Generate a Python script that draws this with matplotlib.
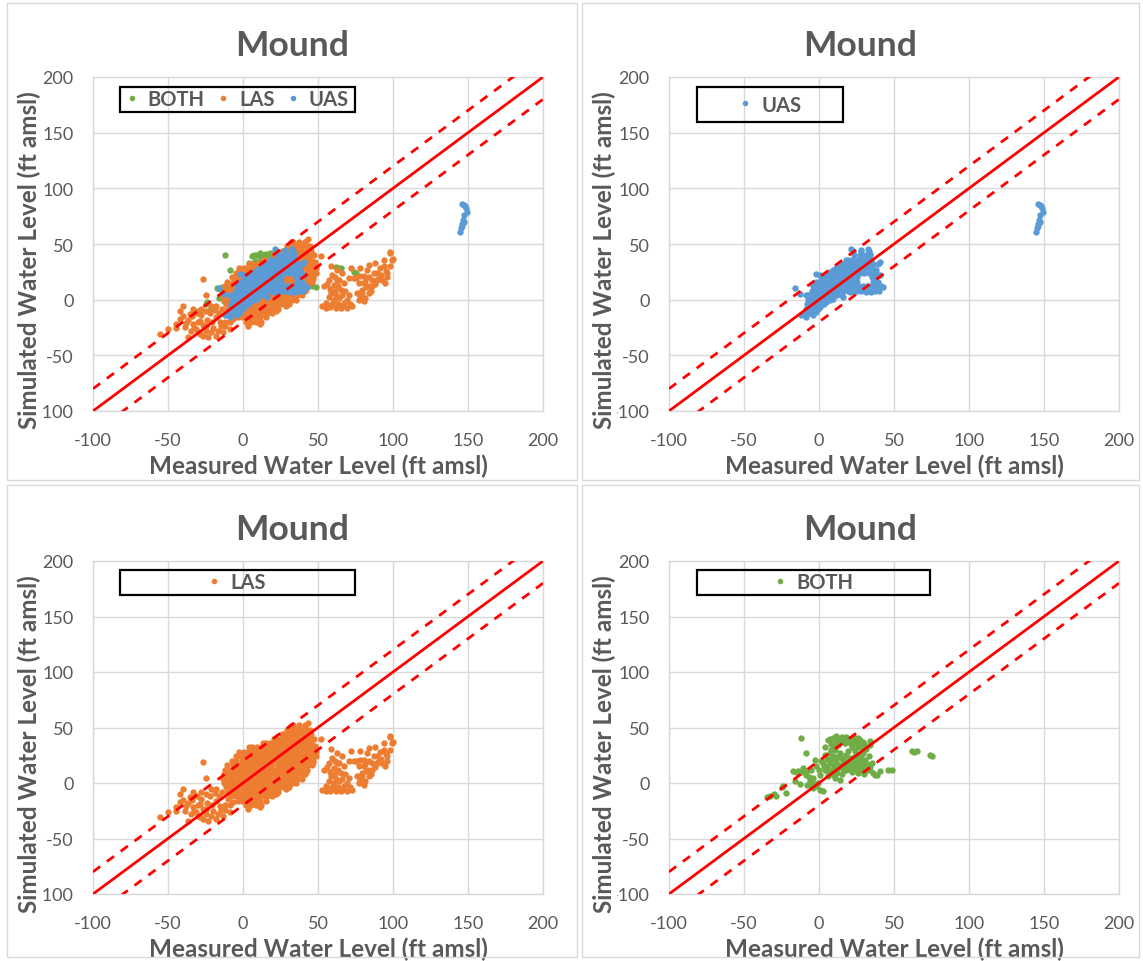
import matplotlib.pyplot as plt
from matplotlib.lines import Line2D
from matplotlib.patches import Rectangle

plt.rcParams['font.family'] = ['Lato', 'DejaVu Sans']
plt.rcParams['axes.unicode_minus'] = False

# ---- data (ft amsl) ----
series_names = ['BOTH', 'LAS', 'UAS']
series_colors = {'BOTH': '#70AD47', 'LAS': '#ED7D31', 'UAS': '#5B9BD5'}

axis_min, axis_max, axis_step = -100, 200, 50
band = 20  # +/- ft around the 1:1 line

# LAS: dense core, given as rows (simulated, [measured...])
las_core_rows = [
    (52, [33.5, 37, 41]),
    (48, [29.5, 32, 35.5, 38.5, 42, 44.5]),
    (44, [26, 28, 30.5, 33.5, 36, 39, 42.5, 45.5]),
    (40, [20.5, 23, 26.5, 29.5, 32, 35.5, 38.5, 41, 44.5, 47]),
    (36, [13, 15.5, 18, 21.5, 24, 27.5, 30, 33, 36.5, 39, 42.5, 45.5]),
    (32, [4, 6, 9.5, 12.5, 15, 18.5, 21, 24.5, 27, 30.5, 33, 36, 39.5, 42, 45, 48]),
    (28, [-2.5, 0.5, 3, 6.5, 9, 12.5, 15, 18, 21.5, 24, 27.5, 30, 33.5, 36, 39, 42.5, 45, 48.5]),
    (24, [-5, -2, 1.5, 4, 7.5, 10, 13, 16.5, 19, 22.5, 25, 28, 31.5, 34, 37.5, 40, 43, 46.5, 48.5]),
    (20, [-7.5, -4.5, -1, 2, 5, 8.5, 11, 14, 17.5, 20, 23, 26.5, 29, 32.5, 35, 38, 41.5, 44, 46.5]),
    (16, [-10.5, -7, -4, -1.5, 2, 4.5, 8, 11, 13.5, 17, 19.5, 23, 26, 28.5, 32, 34.5, 38, 41, 43.5, 46]),
    (12, [-12, -9, -6, -3, 0.5, 3, 6.5, 9, 12, 15.5, 18, 21.5, 24, 27, 30.5, 33, 36.5, 39, 42.5]),
    (8, [-12.5, -9.5, -6.5, -3.5, -0.5, 2.5, 5.5, 8.5, 11.5, 14.5, 17.5, 20.5, 23.5, 26.5, 29.5, 32.5, 35.5, 38.5, 41]),
    (4, [-12, -9, -6, -3, 0, 3, 6, 9, 12, 15, 18, 21, 24, 27, 30, 33, 36, 39]),
    (0, [-12.5, -9.5, -6.5, -3.5, -0.5, 2.5, 5.5, 8.5, 11.5, 14.5, 17.5, 20.5, 23.5, 26.5, 29.5, 32.5, 35]),
    (-4, [-11.5, -8.5, -5.5, -2.5, 0.5, 3.5, 6.5, 9.5, 12.5, 15.5, 18.5, 21.5, 24.5, 27.5, 30.5]),
    (-8, [-10, -7, -4, -1, 2, 5, 8, 11, 14, 17, 20, 23.5]),
    (-12, [-8, -5, -2, 1, 4, 7, 10, 13, 16, 19.5]),
    (-16, [-3.5, -0.5, 2.5, 5.5, 8.5, 11.5, 15]),
    (-20, [2, 5, 8.5, 12]),
]
# LAS: lower-left tail and loose points around the core
las_tail = [
    (-55.6, -30.8), (-50, -26.3), (-44.4, -21.9), (-42.2, -9.9), (-40, -5.4),
    (-35.6, -12.9), (-38.9, -24.8), (-36.7, -33.8), (-31.1, -26.3), (-26.7, 18.6),
    (-24.4, 4.2), (-21.1, -5.4), (-17.8, -5.4), (-27.8, -8.4), (-28.9, -18.9),
    (-24.4, -23.4), (-21.1, -29.3), (-17.8, -32.3), (-13.3, -29.3), (-8.9, -26.3),
    (-33.3, -21.9), (-26.7, -32.3), (-23.3, -33.8), (-30, -29.3), (-33.3, -8.4),
    (-13.3, 3.6), (-15.6, -20.4), (-6.7, -17.4), (3.3, -23.4), (11.1, -21.9),
    (22.2, -9.9), (28.9, -5.4), (35.6, 3.6), (42.2, 9.6), (46.7, 18.6),
    (45.6, 26), (52.2, 39.5), (43.3, 54.5), (41.1, 51.5), (32.2, 51.5),
    (35.6, 48.5), (47.8, 33.5), (58.9, 30.5),
    (-40, -15), (-37, -18), (-34, -15), (-31, -12), (-28, -14), (-25, -10),
    (-22, -12), (-19, -9), (-16, -12), (-14, -8), (-30, -20), (-27, -23),
    (-24, -18), (-21, -20), (-18, -16), (-15, -24), (-12, -20), (-20, -25),
    (-17, -28), (-10, -14), (-35, -28), (-29, -31), (-25, -28), (-38, -21),
    (-33, -25), (-42, -17), (-45, -25), (-12, -24), (-9, -20),
]
# LAS: cluster right of the 1:1 band (measured 50-100)
las_right = [
    (54, 11.9), (52.9, -6), (55.1, -7.5), (58.4, -4.5), (60.6, 0), (58.4, 6),
    (57.3, 17.9), (59.5, 22.4), (62.8, 26.9), (66.1, 23.9), (67.3, 14.9), (65, 9),
    (63.9, 1.5), (67.3, -3), (69.5, -7.5), (72.8, -6), (70.6, 4.5), (69.5, 0),
    (61.7, -7.5), (65, -7.5), (71.7, 28.4), (73.9, 19.4), (70.6, 19.4), (62.8, 17.9),
    (60.6, 13.4), (76.1, 6), (78.3, 3), (81.6, 1.5), (79.4, 9), (77.2, 14.9),
    (80.5, 20.9), (82.7, 26.9), (83.8, 31.3), (88.3, 32.8), (89.4, 23.9), (86, 17.9),
    (83.8, 11.9), (92.7, 17.9), (94.9, 14.9), (96, 23.9), (98.3, 29.9), (99.3, 35.8),
    (98.3, 41.8), (93.8, 35.8), (89.4, 17.9), (86, 11.9), (80.5, 14.9), (78.3, 20.9),
    (75, 19.4), (83.8, 6), (80.5, -1.5), (77.2, 0), (78.3, 28.4), (97.8, 42.5),
    (100, 36.5), (56, 14), (58, 10), (61, 8), (63, 12), (64, 18), (61, 20), (57, 2),
    (60, -3), (63, -4), (66, 4), (68, 8), (62, 4), (66, -6), (55, -3), (58, -7),
    (71, -4), (81, 17), (84, 20), (87, 24), (91, 28), (94, 30), (96, 20), (92, 22),
    (88, 14), (85, 8), (82, 11), (79, 6), (90, 19), (95, 26),
]

# UAS: main cluster rows (simulated, [measured...])
uas_core_rows = [
    (44, [22.5, 28, 33]),
    (40, [23, 27, 31, 34]),
    (36, [19, 22, 25, 28, 31, 34]),
    (32, [15, 18, 21, 24, 27, 30, 33, 36, 39]),
    (28, [11, 14, 17, 20, 23, 26, 29, 32, 35]),
    (24, [6, 9, 12, 15, 18, 21, 24, 27, 30, 33, 36, 38]),
    (20, [1, 4, 7, 10, 13, 16, 19, 22, 25, 35, 38]),
    (16, [-2, 1, 4, 7, 10, 13, 16, 19, 22, 25, 36, 39]),
    (12, [-4, -1, 2, 5, 8, 11, 14, 17, 20, 23, 26, 29, 32, 35, 38, 41]),
    (8, [-5, -2, 1, 4, 7, 10, 13, 16, 19, 22, 25, 28, 31, 34, 37, 40]),
    (4, [-9, -6, -3, 0, 3, 6, 9, 12, 15]),
    (0, [-7.5, -4.5, -1.5, 1.5, 4.5, 7.5]),
    (-4, [-8, -5, -2, 1, 3.5]),
    (-8, [-9, -6, -3, -0.5]),
    (-12, [-9, -6, -3.5]),
]
uas_edge = [
    (-16.2, 10.5), (-12.9, 5.4), (-11.8, -14.1), (-8.4, -15.6), (-4, -14.1),
    (-6.2, -8.1), (-6.2, -2.1), (-7.3, 3.9), (-4, 14.4), (-1.8, 23.4), (0.4, 21.9),
    (1.6, 17.4), (7.1, 24.9), (9.3, 26.3), (13.8, 30.8), (18.2, 35.3), (21.6, 45.8),
    (28.2, 44.3), (28.2, 39.8), (33.8, 41.3), (32.7, 45.8), (34.9, 35.3), (40.4, 33.8),
    (38.2, 26.3), (40.4, 21.9), (42.7, 11.4), (38.2, 15.9), (34.9, 6.9), (31.6, 6.9),
    (24.9, 21.9), (20.4, 6.9), (16, 2.4), (9.3, 0.9), (4.9, -2.1), (0.4, -6.6),
    (-1.8, -11.1), (-5.1, -5.1),
]
# UAS: wells measured near 147 ft
uas_strip = [
    (147, 85), (148.5, 82), (149, 79), (147.5, 76), (146.5, 72), (146, 68),
    (145.5, 64), (144.5, 61), (146, 86), (148, 84), (147, 70), (146, 66),
]

# BOTH
both_pts = [
    (-35, -13), (-28.6, -11.9), (-24.1, -2.4), (-17.4, 10.4), (-15.2, 9.6), (-16.3, 1.5),
    (-11.8, 40.3), (-8.5, 26.9), (-10.7, 13.4), (-8.5, 7.5), (-5.1, 11.9), (-2.9, 20.9),
    (-6.2, -1.5), (-4, -4.5), (-1.8, -3), (0.4, -6), (2.7, -7.5), (-0.7, 0),
    (3.8, 32.8), (6, 38.8), (9.4, 40.3), (13.8, 40.3), (18.3, 41.8), (22.8, 41.8),
    (26.1, 40.3), (29.5, 37.3), (26.1, 32.8), (21.7, 32.8), (17.2, 35.8), (12.7, 34.3),
    (10.5, 29.9), (7.1, 26.9), (13.8, 26.9), (19.4, 28.4), (23.9, 28.4), (29.5, 26.9),
    (30.6, 20.9), (25, 20.9), (20.5, 22.4), (15.4, 22.4), (11.6, 20.9), (7.1, 17.9),
    (2.7, 17.9), (3.8, 11.9), (8.3, 10.4), (12.7, 13.4), (17.2, 16.4), (22.8, 14.9),
    (27.2, 13.4), (30.6, 14.9), (31.7, 11.9), (33.9, 14.9), (10.5, 4.5), (13.8, 3),
    (6, 6), (33.9, 34.3), (36.2, 9), (40.6, 10.4), (46.2, 11.9), (37.5, 7.5),
    (-4, 4.5), (0.4, 7.5), (63, 28.3), (65, 28.5), (75.3, 23.9), (38.4, 7.5),
    (48.5, 11.3), (5, 22), (8, 22), (12, 17), (16, 18), (20, 17), (24, 17), (28, 18),
    (18, 12), (22, 10), (26, 9), (30, 8), (15, 8), (5, 14), (9, 13), (25, 25),
    (18, 25), (22, 37), (16, 38), (26, 37), (12, 37), (8, 35), (20, 40), (24, 39),
    (15, 41), (11, 39), (3, 15), (0, 12), (-2, 15), (-12, 10), (-14, 11), (-7, 5),
    (-9, 10), (-13, -1), (-8, -2), (-3, -1), (-6, 2), (35, 18), (33, 24), (28, 24),
    (31, 31), (34, 38), (-25, -4), (-22, -9), (-33, -12), (74, 25), (62, 29), (-30, -10),
    (14, 24), (19, 20), (23, 23), (27, 21), (10, 16), (16, 13), (21, 12), (25, 12),
    (29, 11), (12, 9), (7, 8), (17, 36), (21, 35), (25, 35), (14, 37), (10, 33),
    (7, 40), (11, 42), (16, 40), (19, 38), (23, 40), (27, 39), (30, 35), (28, 32),
    (9, 24), (12, 23), (16, 21), (22, 19), (26, 17), (29, 15), (32, 17), (34, 12),
    (6, 10), (10, 7), (19, 15), (14, 15), (24, 14), (1, 20), (4, 25), (8, 30),
]


def from_rows(rows):
    xs, ys = [], []
    for y, row in rows:
        xs += row
        ys += [y] * len(row)
    return xs, ys


def from_pairs(*groups):
    xs, ys = [], []
    for g in groups:
        xs += [p[0] for p in g]
        ys += [p[1] for p in g]
    return xs, ys


lx1, ly1 = from_rows(las_core_rows)
lx2, ly2 = from_pairs(las_tail, las_right)
ux1, uy1 = from_rows(uas_core_rows)
ux2, uy2 = from_pairs(uas_edge, uas_strip)
bx, by = from_pairs(both_pts)

data = {
    'BOTH': (bx, by),
    'LAS': (lx1 + lx2, ly1 + ly2),
    'UAS': (ux1 + ux2, uy1 + uy2),
}

# ---- layout (pixels of a 1143x962 canvas) ----
W, H = 1143, 962
fig = plt.figure(figsize=(W / 100, H / 100), dpi=100)
fig.patch.set_facecolor('white')

gray = '#595959'
grid_c = '#d9d9d9'

panels = [
    # chart border, plot area, legend box (px), series shown
    ((7, 4, 577, 481), (93, 78, 543, 412), (119.5, 88, 355, 113), ['BOTH', 'LAS', 'UAS']),
    ((582, 4, 1139, 481), (669, 78, 1119, 412), (697, 88, 843, 123), ['UAS']),
    ((7, 486, 577, 958), (93, 562, 543, 895), (119.5, 571, 355, 596), ['LAS']),
    ((582, 486, 1139, 958), (669, 562, 1119, 895), (697, 571, 930, 596), ['BOTH']),
]

for border, area, lbox, names in panels:
    fig.patches.append(Rectangle((border[0] / W, 1 - border[3] / H),
                                 (border[2] - border[0]) / W, (border[3] - border[1]) / H,
                                 transform=fig.transFigure, fill=False,
                                 edgecolor=grid_c, lw=1.0))
    ax = fig.add_axes([area[0] / W, 1 - area[3] / H,
                       (area[2] - area[0]) / W, (area[3] - area[1]) / H])
    aw, ah = area[2] - area[0], area[3] - area[1]

    for name in names:
        xs, ys = data[name]
        ax.scatter(xs, ys, s=21, color=series_colors[name], linewidths=0, zorder=2)

    lims = [axis_min, axis_max]
    ax.plot(lims, lims, color='red', lw=2, zorder=3)
    ax.plot(lims, [v + band for v in lims], color='red', lw=2, ls=(0, (3.2, 3)), zorder=3)
    ax.plot(lims, [v - band for v in lims], color='red', lw=2, ls=(0, (3.2, 3)), zorder=3)

    ax.set_xlim(axis_min, axis_max)
    ax.set_ylim(axis_min, axis_max)
    ticks = list(range(axis_min, axis_max + 1, axis_step))
    ax.set_xticks(ticks)
    ax.set_yticks(ticks)
    ax.grid(True, color=grid_c, lw=1.0)
    ax.set_axisbelow(True)
    for sp in ax.spines.values():
        sp.set_color(grid_c)
        sp.set_linewidth(1.0)
    ax.tick_params(axis='both', length=0, labelsize=13, colors=gray)
    ax.tick_params(axis='x', pad=15)
    ax.tick_params(axis='y', pad=14)

    ax.set_xlabel('Measured Water Level (ft amsl)', fontsize=17.5, fontweight='bold', color=gray)
    # the title box sits over the minus sign of the lowest y tick, as in the original
    ax.set_ylabel('Simulated Water Level (ft amsl)', fontsize=17.5, fontweight='bold', color=gray,
                  bbox=dict(facecolor='white', edgecolor='none', pad=1))
    ax.xaxis.label.set_va('center')
    ax.yaxis.label.set_va('center')
    ax.xaxis.set_label_coords(0.5, -54 / ah)
    ax.yaxis.set_label_coords((border[0] + 22 - area[0]) / aw, 1 - (260 - 78) / ah)

    # title centred on the chart border
    fig.text((border[0] + border[2]) / 2 / W, 1 - (area[1] - 32) / H, 'Mound',
             ha='center', va='center', fontsize=25.5, fontweight='bold', color=gray)

    # legend box
    bx0, by0 = (lbox[0] - area[0]) / aw, 1 - (lbox[3] - area[1]) / ah
    bw, bh = (lbox[2] - lbox[0]) / aw, (lbox[3] - lbox[1]) / ah
    ax.add_patch(Rectangle((bx0, by0), bw, bh, transform=ax.transAxes, fill=False,
                           edgecolor='black', lw=1.6, zorder=5, clip_on=False))
    handles = [Line2D([], [], ls='', marker='o', markersize=4, color=series_colors[n],
                      markeredgewidth=0) for n in names]
    leg = ax.legend(handles, names, loc='center', bbox_to_anchor=(bx0 + bw / 2, by0 + bh / 2),
                    ncol=len(names), frameon=False, handlelength=0.6, handletextpad=0.5,
                    columnspacing=0.6, borderpad=0, prop={'weight': 'bold', 'size': 14.5})
    for t in leg.get_texts():
        t.set_color(gray)

fig.savefig('out.png', dpi=100)
